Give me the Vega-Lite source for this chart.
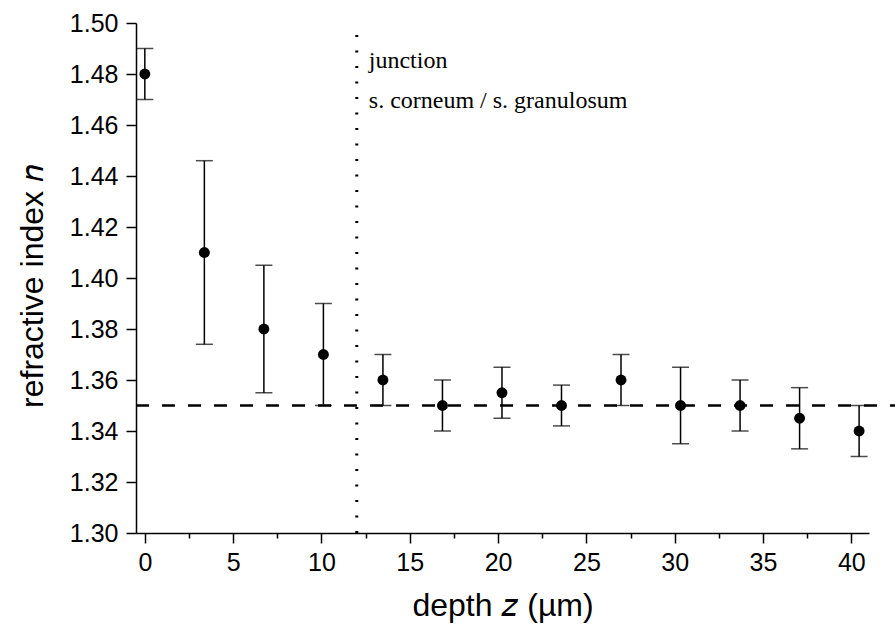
{
  "$schema": "https://vega.github.io/schema/vega-lite/v6.json",
  "autosize": "none",
  "width": 733,
  "height": 510,
  "padding": {"left": 136, "top": 23, "right": 26, "bottom": 99},
  "background": "white",
  "config": {
    "view": {"stroke": null},
    "axis": {
      "grid": false,
      "domainColor": "black",
      "domainWidth": 1.5,
      "tickColor": "black",
      "tickWidth": 1.5,
      "labelFont": "Liberation Sans",
      "labelFontSize": 25,
      "labelColor": "black",
      "titleFont": "Liberation Sans",
      "titleFontSize": 32,
      "titleFontWeight": "normal",
      "titleColor": "black"
    }
  },
  "datasets": {
    "pts": [
      {"z": 0.0, "n": 1.48, "lo": 1.47, "hi": 1.49},
      {"z": 3.37, "n": 1.41, "lo": 1.374, "hi": 1.446},
      {"z": 6.74, "n": 1.38, "lo": 1.355, "hi": 1.405},
      {"z": 10.11, "n": 1.37, "lo": 1.35, "hi": 1.39},
      {"z": 13.48, "n": 1.36, "lo": 1.35, "hi": 1.37},
      {"z": 16.85, "n": 1.35, "lo": 1.34, "hi": 1.36},
      {"z": 20.22, "n": 1.355, "lo": 1.345, "hi": 1.365},
      {"z": 23.59, "n": 1.35, "lo": 1.342, "hi": 1.358},
      {"z": 26.96, "n": 1.36, "lo": 1.35, "hi": 1.37},
      {"z": 30.33, "n": 1.35, "lo": 1.335, "hi": 1.365},
      {"z": 33.7, "n": 1.35, "lo": 1.34, "hi": 1.36},
      {"z": 37.07, "n": 1.345, "lo": 1.333, "hi": 1.357},
      {"z": 40.44, "n": 1.34, "lo": 1.33, "hi": 1.35}
    ],
    "notes": [
      {"z": 12.68, "n": 1.4824, "label": "junction"},
      {"z": 12.68, "n": 1.4667, "label": "s. corneum / s. granulosum"}
    ],
    "hline": [{"n": 1.35, "z1": -0.5, "z2": 42.5}],
    "vline": [{"z": 12, "n1": 1.30, "n2": 1.498}]
  },
  "layer": [
    {
      "data": {"name": "pts"},
      "mark": {"type": "rule", "color": "black", "strokeWidth": 1.5},
      "encoding": {
        "x": {
          "field": "z", "type": "quantitative",
          "scale": {"domain": [-0.5, 41], "nice": false, "zero": false},
          "axis": {
            "title": "depth 𝑧 (µm)",
            "values": [0, 2.5, 5, 7.5, 10, 12.5, 15, 17.5, 20, 22.5, 25, 27.5, 30, 32.5, 35, 37.5, 40],
            "labelExpr": "datum.value % 5 === 0 ? format(datum.value, 'd') : ''",
            "tickSize": {"condition": {"test": "datum.value % 5 === 0", "value": 10}, "value": 5},
            "labelPadding": 7,
            "titleY": 82,
            "titleBaseline": "alphabetic"
          }
        },
        "y": {
          "field": "lo", "type": "quantitative",
          "scale": {"domain": [1.3, 1.5], "nice": false, "zero": false},
          "axis": {
            "title": "refractive index 𝑛",
            "values": [1.30, 1.31, 1.32, 1.33, 1.34, 1.35, 1.36, 1.37, 1.38, 1.39, 1.40, 1.41, 1.42, 1.43, 1.44, 1.45, 1.46, 1.47, 1.48, 1.49, 1.50],
            "labelExpr": "round(datum.value * 100) % 2 === 0 ? format(datum.value, '.2f') : ''",
            "tickSize": {"condition": {"test": "round(datum.value * 100) % 2 === 0", "value": 10}, "value": 5},
            "labelPadding": 8,
            "titleX": -94,
            "titleY": 263,
            "titleBaseline": "alphabetic"
          }
        },
        "y2": {"field": "hi"}
      }
    },
    {
      "data": {"name": "pts"},
      "mark": {"type": "tick", "orient": "horizontal", "color": "black", "size": 17, "thickness": 1.5},
      "encoding": {
        "x": {"field": "z", "type": "quantitative"},
        "y": {"field": "lo", "type": "quantitative"}
      }
    },
    {
      "data": {"name": "pts"},
      "mark": {"type": "tick", "orient": "horizontal", "color": "black", "size": 17, "thickness": 1.5},
      "encoding": {
        "x": {"field": "z", "type": "quantitative"},
        "y": {"field": "hi", "type": "quantitative"}
      }
    },
    {
      "data": {"name": "hline"},
      "mark": {"type": "rule", "color": "black", "strokeWidth": 2.5, "strokeDash": [13, 13], "clip": false},
      "encoding": {
        "x": {"field": "z1", "type": "quantitative"},
        "x2": {"field": "z2"},
        "y": {"field": "n", "type": "quantitative"}
      }
    },
    {
      "data": {"name": "vline"},
      "mark": {"type": "rule", "color": "black", "strokeWidth": 3, "strokeDash": [2, 13.5], "strokeCap": "butt"},
      "encoding": {
        "x": {"field": "z", "type": "quantitative"},
        "y": {"field": "n1", "type": "quantitative"},
        "y2": {"field": "n2"}
      }
    },
    {
      "data": {"name": "pts"},
      "mark": {"type": "point", "filled": true, "color": "black", "opacity": 1, "size": 120},
      "encoding": {
        "x": {"field": "z", "type": "quantitative"},
        "y": {"field": "n", "type": "quantitative"}
      }
    },
    {
      "data": {"name": "notes"},
      "mark": {"type": "text", "align": "left", "baseline": "alphabetic", "font": "Liberation Serif", "fontSize": 24, "color": "black"},
      "encoding": {
        "x": {"field": "z", "type": "quantitative"},
        "y": {"field": "n", "type": "quantitative"},
        "text": {"field": "label"}
      }
    }
  ]
}
